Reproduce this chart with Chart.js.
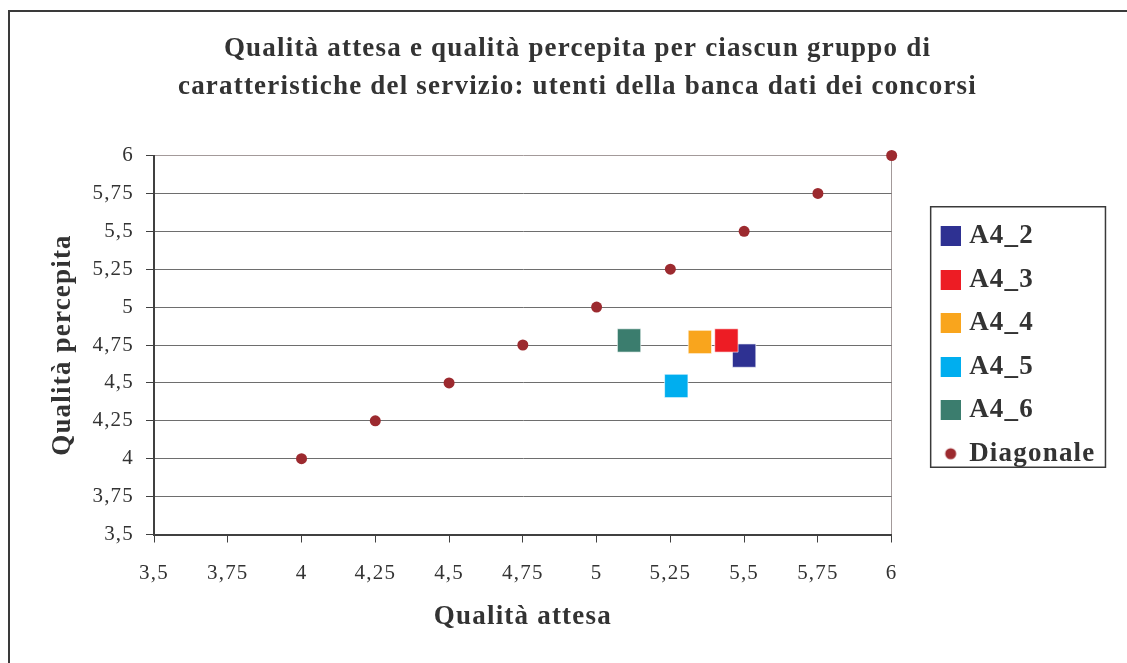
<!DOCTYPE html>
<html lang="it">
<head>
    <meta charset="UTF-8">
    <title>Qualità attesa e qualità percepita</title>
    <script src="https://cdn.jsdelivr.net/npm/chart.js@4.4.0/dist/chart.umd.min.js"></script>
    <style>
        html, body { margin: 0; padding: 0; background: #fff; overflow: hidden; }
        .frame {
            position: absolute; left: 8px; top: 10px;
            width: 1135px; height: 660px;
            border: 2px solid #3a3a3a;
        }
        canvas { display: block; }
    </style>
</head>
<body>
    <div class="frame">
        <canvas id="chart" width="1135" height="651"></canvas>
    </div>
    <script>
        // series names and colours (legend order)
        const seriesNames = ['A4_2', 'A4_3', 'A4_4', 'A4_5', 'A4_6'];
        const seriesColors = ['#2e3192', '#ed1c24', '#f9a51d', '#00aeef', '#3b7d6e'];
        // one point per group: [qualità attesa, qualità percepita]
        const attesa = [5.50, 5.44, 5.35, 5.27, 5.11];
        const percepita = [4.68, 4.78, 4.77, 4.48, 4.78];

        // diagonal reference points
        const diagX = [4, 4.25, 4.5, 4.75, 5, 5.25, 5.5, 5.75, 6];
        const diagY = [4, 4.25, 4.5, 4.75, 5, 5.25, 5.5, 5.75, 6];
        const diagColor = '#9c2a2f';

        const axisMin = 3.5, axisMax = 6, axisStep = 0.25;
        const titleLines = [
            'Qualità attesa e qualità percepita per ciascun gruppo di',
            'caratteristiche del servizio: utenti della banca dati dei concorsi'
        ];

        const serif = '"Liberation Serif", "Times New Roman", serif';
        const textColor = '#333333';
        const fmt = v => String(v).replace('.', ',');

        // little images used as legend markers
        function legendMarker(color, dot) {
            const c = document.createElement('canvas');
            c.width = 25; c.height = 20;
            const g = c.getContext('2d');
            g.fillStyle = color;
            if (dot) {
                g.beginPath(); g.arc(15, 10, 5.5, 0, Math.PI * 2); g.fill();
            } else {
                g.fillRect(5, 0, 20, 20);
            }
            return c;
        }

        const datasets = seriesNames.map((name, i) => ({
            label: name,
            data: [{ x: attesa[i], y: percepita[i] }],
            backgroundColor: seriesColors[i],
            borderColor: 'rgba(255,255,255,0.6)',
            borderWidth: 1,
            pointStyle: 'rect',
            pointRadius: 16.5,
            clip: false,
            order: seriesNames.length - i
        }));
        datasets.push({
            label: 'Diagonale',
            data: diagX.map((x, i) => ({ x: x, y: diagY[i] })),
            backgroundColor: diagColor,
            borderWidth: 0,
            pointStyle: 'circle',
            pointRadius: 5.5,
            clip: false,
            order: 10
        });

        // the original text is a bit spread out
        const spacing = {
            id: 'spacing',
            beforeLayout(chart) { chart.ctx.letterSpacing = '1.2px'; },
            beforeDraw(chart) { chart.ctx.letterSpacing = '1.2px'; }
        };

        const legendFrame = {
            id: 'legendFrame',
            afterDraw(chart) {
                const boxes = chart.legend.legendHitBoxes;
                if (!boxes || !boxes.length) return;
                const left = Math.min(...boxes.map(b => b.left)) - 10;
                const right = Math.max(...boxes.map(b => b.left + b.width)) + 10;
                const top = boxes[0].top - 16;
                const last = boxes[boxes.length - 1];
                const bottom = last.top + last.height;
                const ctx = chart.ctx;
                ctx.save();
                ctx.strokeStyle = '#3a3a3a';
                ctx.lineWidth = 1.5;
                ctx.strokeRect(left, top, right - left, bottom - top);
                ctx.restore();
            }
        };

        new Chart(document.getElementById('chart'), {
            type: 'scatter',
            data: { datasets: datasets },
            options: {
                responsive: false,
                animation: false,
                layout: { padding: { left: 47.5, right: 47.5, top: 0, bottom: 0 } },
                plugins: {
                    tooltip: { enabled: false },
                    title: {
                        display: true,
                        text: titleLines,
                        color: textColor,
                        font: { family: serif, size: 27, weight: 'bold', lineHeight: 38 / 27 },
                        padding: { top: 18, bottom: 49.5 }
                    },
                    legend: {
                        position: 'right',
                        fullSize: false,
                        labels: {
                            usePointStyle: true,
                            boxWidth: 15,
                            padding: 16.5,
                            color: textColor,
                            font: { family: serif, size: 27, weight: 'bold' },
                            generateLabels(chart) {
                                return chart.data.datasets.map((ds, i) => ({
                                    text: ds.label,
                                    fontColor: textColor,
                                    pointStyle: legendMarker(ds.backgroundColor, ds.pointStyle === 'circle'),
                                    lineWidth: 0,
                                    hidden: false,
                                    datasetIndex: i
                                }));
                            }
                        }
                    }
                },
                scales: {
                    x: {
                        type: 'linear',
                        min: axisMin, max: axisMax,
                        afterFit(scale) { scale.height = 128.5; },
                        ticks: {
                            stepSize: axisStep,
                            padding: 18,
                            color: textColor,
                            font: { family: serif, size: 21 },
                            callback: v => fmt(v)
                        },
                        grid: {
                            color: c => c.tick && c.tick.value === axisMax ? '#a39a9a' : 'transparent',
                            tickColor: '#404040',
                            tickLength: 8
                        },
                        border: { color: '#404040', width: 2 },
                        title: {
                            display: true,
                            text: 'Qualità attesa',
                            color: textColor,
                            font: { family: serif, size: 27, weight: 'bold', lineHeight: 1.2 },
                            padding: { top: 0, bottom: 29.8 }
                        }
                    },
                    y: {
                        type: 'linear',
                        min: axisMin, max: axisMax,
                        afterFit(scale) { scale.width = 96.5; },
                        ticks: {
                            stepSize: axisStep,
                            padding: 12,
                            color: textColor,
                            font: { family: serif, size: 21 },
                            callback: v => fmt(v)
                        },
                        grid: {
                            color: c => c.tick && c.tick.value === axisMax ? '#a39a9a' : '#6e6e6e',
                            tickColor: '#404040',
                            tickLength: 8
                        },
                        border: { color: '#404040', width: 2 },
                        title: {
                            display: true,
                            text: 'Qualità percepita',
                            color: textColor,
                            font: { family: serif, size: 27, weight: 'bold', lineHeight: 0.9 },
                            padding: { top: -6.6, bottom: 0 }
                        }
                    },
                    // empty axis that only keeps the gap between plot and legend
                    gap: {
                        type: 'linear',
                        position: 'right',
                        afterFit(scale) { scale.width = 32.5; },
                        ticks: { display: false },
                        grid: { display: false },
                        border: { display: false }
                    }
                }
            },
            plugins: [spacing, legendFrame]
        });
    </script>
</body>
</html>
